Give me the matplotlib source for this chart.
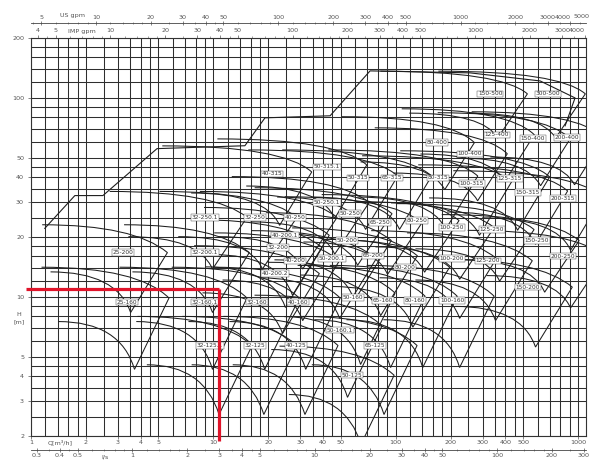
import matplotlib
matplotlib.use("Agg")
import matplotlib.pyplot as plt
from matplotlib.path import Path
from matplotlib.patches import PathPatch
from matplotlib.ticker import FixedLocator, NullFormatter, NullLocator

# ---------------- data ----------------
pump_names = ["32-125.1", "32-125", "40-125", "50-125", "65-125",
              "25-160", "32-160.1", "32-160", "40-160", "50-160.1", "50-160", "65-160", "80-160", "100-160",
              "25-200", "32-200.1", "32-200", "40-200.1", "40-200", "40-200.2", "50-200.1", "50-200",
              "65-200", "80-200", "100-200", "125-200", "150-200",
              "32-250.1", "32-250", "40-250", "50-250.1", "50-250", "65-250", "80-250", "100-250",
              "125-250", "150-250", "200-250",
              "40-315", "50-315.1", "50-315", "65-315", "80-315", "100-315", "125-315", "150-315", "200-315",
              "80-400", "100-400", "125-400", "150-400", "200-400",
              "150-500", "300-500"]
# flow at the duty point label [m3/h]
pump_q = [9.6, 16.9, 28.4, 57.7, 77.1,
          3.36, 9.0, 17.4, 29.2, 49.5, 58.4, 85.3, 128, 204,
          3.2, 9.0, 22.6, 24.7, 28.1, 21.8, 44.8, 54.1, 75.2, 113, 204, 321, 532,
          9.0, 16.9, 28.1, 42.1, 56.2, 82.1, 131, 204, 338, 597, 828,
          21.0, 42.1, 62.2, 95.5, 171, 262, 424, 532, 828,
          169, 256, 360, 567, 871,
          330, 686]
# head at the duty point label [m]
pump_h = [5.7, 5.7, 5.7, 4.04, 5.7,
          9.4, 9.4, 9.4, 9.4, 6.8, 9.95, 9.6, 9.6, 9.6,
          16.7, 16.7, 17.7, 20.4, 15.2, 13.1, 15.6, 19.2, 16.1, 14.1, 15.6, 15.2, 11.2,
          25.1, 25.1, 25.1, 29.8, 26.2, 23.6, 24.2, 22.3, 21.8, 19.2, 16.0,
          41.6, 45.1, 39.7, 39.7, 39.7, 37.1, 39.3, 33.4, 31.2,
          59.6, 52.4, 65.3, 62.4, 63.1,
          104.8, 104.8]

# outer envelope (staircase) of the whole range
env_q = [1.19, 1.74, 2.48, 4.91, 14.9, 19.2, 43.7, 72.4, 256, 620, 964, 850]
env_h = [22.1, 32.3, 32.3, 55.6, 57.5, 79.4, 81.3, 136.7, 133.6, 121.7, 100, 72.4]

# red selection lines (duty point)
duty_q = 10.8
duty_h = 11.0

# axis tick labels
x_ticks = [1, 2, 3, 4, 5, 10, 20, 30, 40, 50, 100, 200, 300, 400, 500, 1000]
y_ticks = [2, 3, 4, 5, 10, 20, 30, 40, 50, 100, 200]
ls_ticks = [0.3, 0.4, 0.5, 1, 2, 3, 4, 5, 10, 20, 30, 40, 50, 100, 200, 300]
imp_ticks = [4, 5, 10, 20, 30, 40, 50, 100, 200, 300, 400, 500, 1000, 2000, 3000, 4000]
us_ticks = [5, 10, 20, 30, 40, 50, 100, 200, 300, 400, 500, 1000, 2000, 3000, 4000]
us_last = "5000"

# ---------------- style ----------------
grid_steps = [1, 1.2, 1.4, 1.6, 1.8, 2, 2.5, 3, 3.5, 4, 4.5, 5, 6, 7, 8, 9]
shape = {  # tombstone shape per impeller family (multipliers of duty point)
    125: dict(al=0.40, ar=1.7, ht=1.40, he=1.00, vq=1.12, vh=0.45, bl=0.45, hb=0.80),
    160: dict(al=0.34, ar=1.7, ht=1.50, he=1.05, vq=1.10, vh=0.46, bl=0.42, hb=0.80),
    200: dict(al=0.36, ar=1.75, ht=1.38, he=1.00, vq=1.10, vh=0.50, bl=0.40, hb=0.80),
    250: dict(al=0.30, ar=1.7, ht=1.35, he=1.00, vq=1.10, vh=0.55, bl=0.38, hb=0.80),
    315: dict(al=0.25, ar=1.65, ht=1.38, he=1.02, vq=1.10, vh=0.55, bl=0.36, hb=0.80),
    400: dict(al=0.30, ar=1.6, ht=1.35, he=1.00, vq=1.10, vh=0.58, bl=0.38, hb=0.80),
    500: dict(al=0.25, ar=1.6, ht=1.30, he=1.00, vq=1.10, vh=0.60, bl=0.36, hb=0.80),
}
GRID_C = "#2e2e2e"
LINE_C = "#1e1e1e"
TXT_C = "#555555"
FS = 4.6

W, H = 591, 463
fig = plt.figure(figsize=(W / 100, H / 100), dpi=100)
ax = fig.add_axes([31 / W, 1 - 436 / H, 554.5 / W, 398 / H])
ax.set_xscale("log")
ax.set_yscale("log")
ax.set_xlim(1, 1100)
ax.set_ylim(2, 200)

# grid
gx = [m * d for d in (1, 10, 100, 1000) for m in grid_steps if m * d <= 1100]
gy = [m * d for d in (1, 10, 100) for m in grid_steps if 2 <= m * d <= 200]
ax.vlines(gx, 2, 200, color=GRID_C, lw=0.75, zorder=1)
ax.hlines(gy, 1, 1100, color=GRID_C, lw=0.75, zorder=1)

# pump tombstones (max impeller curve, right limit, min impeller curve)
for name, q, h in zip(pump_names, pump_q, pump_h):
    fam = int(name.split("-")[1].split(".")[0])
    p = shape[fam]
    tl = (q * p["al"], h * p["ht"])
    tc = (q * 1.15, h * p["ht"])
    tr = (q * p["ar"], h * p["he"])
    v = (q * p["vq"], h * p["vh"])
    bc = (q * 0.92, h * p["hb"])
    bl = (q * p["bl"], h * p["hb"])
    verts = [tl, tc, tr, v, bc, bl]
    codes = [Path.MOVETO, Path.CURVE3, Path.CURVE3, Path.LINETO,
             Path.CURVE3, Path.CURVE3]
    ax.add_patch(PathPatch(Path(verts, codes), fill=False, ec=LINE_C, lw=0.75,
                           transform=ax.transData, zorder=3))
    ax.text(q, h, name, fontsize=4.2, color="#333333", ha="center", va="center", zorder=5,
            bbox=dict(boxstyle="square,pad=0.12", fc="white", ec="#555555", lw=0.35))

ax.plot(env_q, env_h, color=LINE_C, lw=0.8, zorder=3)

# red duty lines
ax.plot([0.94, duty_q], [duty_h, duty_h], color="#e0142a", lw=2.3, clip_on=False,
        solid_capstyle="butt", zorder=6)
ax.plot([duty_q, duty_q], [duty_h, 1.89], color="#e0142a", lw=2.3, clip_on=False,
        solid_capstyle="butt", zorder=6)

# main axes ticks
for s in ax.spines.values():
    s.set_color("#333333")
    s.set_linewidth(0.8)
ax.set_xticks(x_ticks, labels=[str(t) for t in x_ticks])
ax.set_yticks(y_ticks, labels=[str(t) for t in y_ticks])
ax.xaxis.set_minor_locator(NullLocator())
ax.yaxis.set_minor_locator(NullLocator())
ax.tick_params(axis="both", which="major", length=2, width=0.5, labelsize=FS,
               colors=TXT_C, pad=1.2)
ax.tick_params(axis="y", pad=3)

minor_all = [m * d for d in (0.1, 1, 10, 100, 1000) for m in grid_steps]


def add_sec(loc, fwd, inv, ticks, direction):
    sec = ax.secondary_xaxis(loc, functions=(fwd, inv))
    sec.set_xticks(ticks, labels=[str(t) for t in ticks])
    sec.xaxis.set_minor_locator(FixedLocator(minor_all))
    sec.xaxis.set_minor_formatter(NullFormatter())
    sec.tick_params(axis="x", which="major", length=2.5, width=0.5, labelsize=FS,
                    colors=TXT_C, pad=1.0, direction=direction)
    sec.tick_params(axis="x", which="minor", length=1.4, width=0.4, colors=TXT_C,
                    direction=direction)
    for s in sec.spines.values():
        s.set_color("#444444")
        s.set_linewidth(0.6)
    return sec


imp = add_sec("top", lambda x: x * 3.666, lambda g: g / 3.666, imp_ticks, "out")
imp.get_xticklabels()[-1].set_horizontalalignment("right")
us = add_sec(1 + 15 / 398, lambda x: x * 4.403, lambda g: g / 4.403, us_ticks, "inout")
us.get_xticklabels()[-1].set_horizontalalignment("right")
add_sec(-14 / 398, lambda x: x / 3.6, lambda l: l * 3.6, ls_ticks, "inout")

# unit labels and the last US gpm value at the right edge
fig.text(72 / W, 1 - 15 / H, "US gpm", fontsize=FS, color=TXT_C, ha="center", va="center")
fig.text(590 / W, 1 - 16 / H, us_last, fontsize=FS, color=TXT_C, ha="right", va="center")
fig.text(82 / W, 1 - 32 / H, "IMP gpm", fontsize=FS, color=TXT_C, ha="center", va="center")
fig.text(60 / W, 1 - 442 / H, "Q[m³/h]", fontsize=FS, color=TXT_C, ha="center", va="center")
fig.text(105 / W, 1 - 457 / H, "l/s", fontsize=FS, color=TXT_C, ha="center", va="center")
fig.text(19 / W, 1 - 314 / H, "H", fontsize=FS, color=TXT_C, ha="center", va="center")
fig.text(19 / W, 1 - 322 / H, "[m]", fontsize=FS, color=TXT_C, ha="center", va="center")

fig.savefig("out.png", dpi=100)
